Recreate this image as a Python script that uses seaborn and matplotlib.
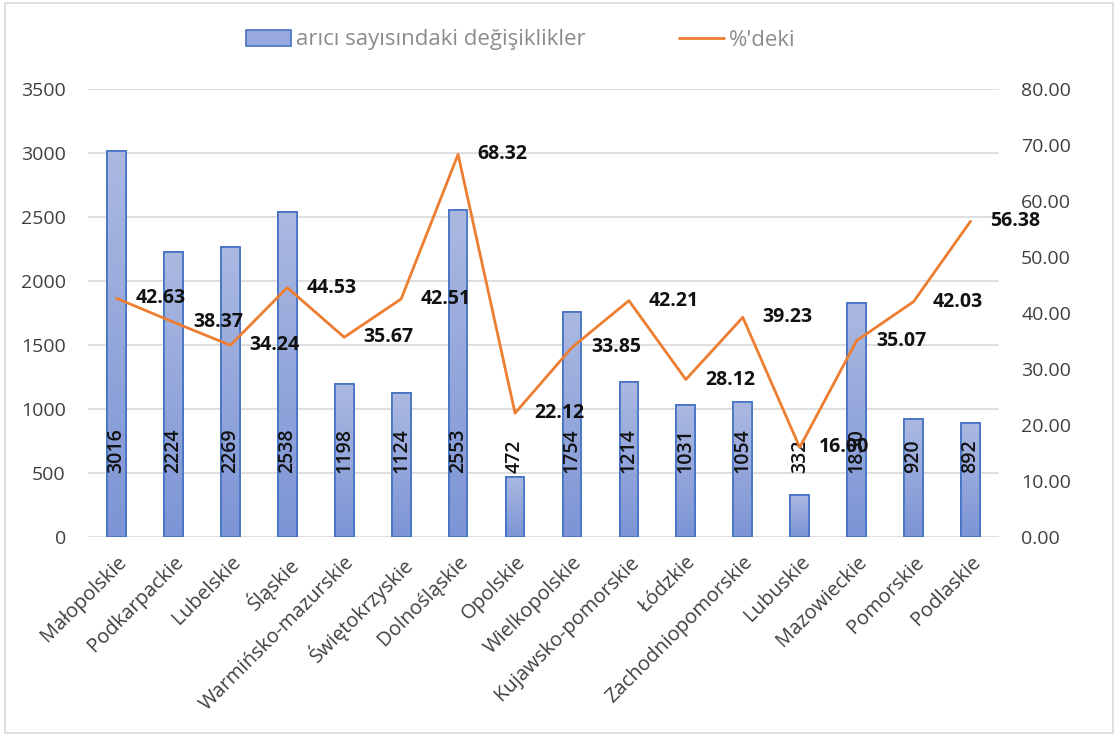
import numpy as np
import pandas as pd
import matplotlib
matplotlib.use("Agg")
import matplotlib.pyplot as plt
import seaborn as sns
from matplotlib.lines import Line2D
from matplotlib.patches import Patch, Rectangle
from matplotlib.colors import LinearSegmentedColormap

regions = ["Małopolskie", "Podkarpackie", "Lubelskie", "Śląskie", "Warmińsko-mazurskie",
           "Świętokrzyskie", "Dolnośląskie", "Opolskie", "Wielkopolskie", "Kujawsko-pomorskie",
           "Łódzkie", "Zachodniopomorskie", "Lubuskie", "Mazowieckie", "Pomorskie", "Podlaskie"]
beekeeper_change = [3016, 2224, 2269, 2538, 1198, 1124, 2553, 472, 1754, 1214, 1031, 1054, 332, 1830, 920, 892]
percent_change = [42.63, 38.37, 34.24, 44.53, 35.67, 42.51, 68.32, 22.12, 33.85, 42.21, 28.12, 39.23, 16.00, 35.07, 42.03, 56.38]
left_ticks = [0, 500, 1000, 1500, 2000, 2500, 3000, 3500]
right_ticks = [0, 10, 20, 30, 40, 50, 60, 70, 80]
bar_label = "arıcı sayısındaki değişiklikler"
line_label = "%'deki"

sns.set_theme(style="white")
plt.rcParams['font.family'] = ['Open Sans', 'DejaVu Sans']

df = pd.DataFrame({"region": regions, "bees": beekeeper_change,
                   "pct": percent_change, "pos": np.arange(len(regions))})

fig = plt.figure(figsize=(11.18, 7.35), dpi=100)
fig.subplots_adjust(left=88/1118, right=999/1118, top=1-89/735, bottom=1-537/735)
ax = fig.add_subplot(111)

bar_edge = "#4472c4"
sns.barplot(data=df, x="region", y="bees", ax=ax, color="#98a9dd", width=0.33,
            edgecolor=bar_edge, linewidth=1.2, saturation=1, zorder=2)

# gradient fill in bars
cmap = LinearSegmentedColormap.from_list("g", ["#7d95d6", "#abb9e1"])
grad = np.linspace(0, 1, 256).reshape(-1, 1)
for p in list(ax.patches):
    x0, y0 = p.get_x(), p.get_y()
    w, h = p.get_width(), p.get_height()
    im = ax.imshow(grad, extent=[x0, x0 + w, y0, y0 + h], origin="lower",
                   aspect="auto", cmap=cmap, zorder=2.1)
    im.set_clip_path(p)
    r = Rectangle((x0, y0), w, h, fill=False, edgecolor=bar_edge, linewidth=1.2, zorder=2.2)
    ax.add_patch(r)

ax.set_xlim(-0.5, len(regions) - 0.5)
ax.set_ylim(0, 3500)
ax.set_yticks(left_ticks)
ax.set_yticklabels([str(t) for t in left_ticks])
ax.yaxis.grid(True, color="#d9d9d9", linewidth=1.2)
ax.set_axisbelow(True)
ax.set_xlabel("")
ax.set_ylabel("")
for s in ax.spines.values():
    s.set_visible(False)
ax.tick_params(axis="y", labelsize=14, colors="#404040", length=0, pad=16)
ax.tick_params(axis="x", length=0, pad=11)
ax.set_xticks(range(len(regions)))
ax.set_xticklabels(regions, rotation=45, ha="right", rotation_mode="anchor",
                   fontsize=14.5, color="#404040")

# bar value labels
for i, v in enumerate(beekeeper_change):
    ax.text(i, 500, str(v), rotation=90, ha="center", va="bottom",
            fontsize=14, fontweight="semibold", color="#111111", zorder=5)

ax2 = ax.twinx()
sns.lineplot(data=df, x="pos", y="pct", ax=ax2, color="#ed7d31", linewidth=2.0, zorder=3)
ax2.set_ylim(0, 80)
ax2.set_yticks(right_ticks)
ax2.set_yticklabels([f"{t:.2f}" for t in right_ticks])
ax2.set_xlim(-0.5, len(regions) - 0.5)
ax2.set_ylabel("")
ax2.set_xlabel("")
for s in ax2.spines.values():
    s.set_visible(False)
ax2.tick_params(axis="y", labelsize=14, colors="#404040", length=0, pad=16)
ax2.grid(False)

for i, v in enumerate(percent_change):
    ax2.annotate(f"{v:.2f}", (i, v), xytext=(14, 0), textcoords="offset points",
                 ha="left", va="center", fontsize=14, fontweight="bold", color="#111111")

handles = [Patch(facecolor="#98a9dd", edgecolor=bar_edge, linewidth=1.2),
           Line2D([0], [0], color="#ed7d31", linewidth=2.0)]
leg = fig.legend(handles, [bar_label, line_label], loc="center", ncol=2,
                 bbox_to_anchor=(521/1118, 1-40/735), frameon=False, fontsize=16,
                 handlelength=2.0, handleheight=0.7, handletextpad=0.25, columnspacing=4.2)
for t in leg.get_texts():
    t.set_color("#8c8c8c")

fig.add_artist(Rectangle((5/1118, 2/735), 1108/1118, 730/735, transform=fig.transFigure,
                         fill=False, edgecolor="#d9d9d9", linewidth=1.2))

fig.savefig("out.png", dpi=100)
